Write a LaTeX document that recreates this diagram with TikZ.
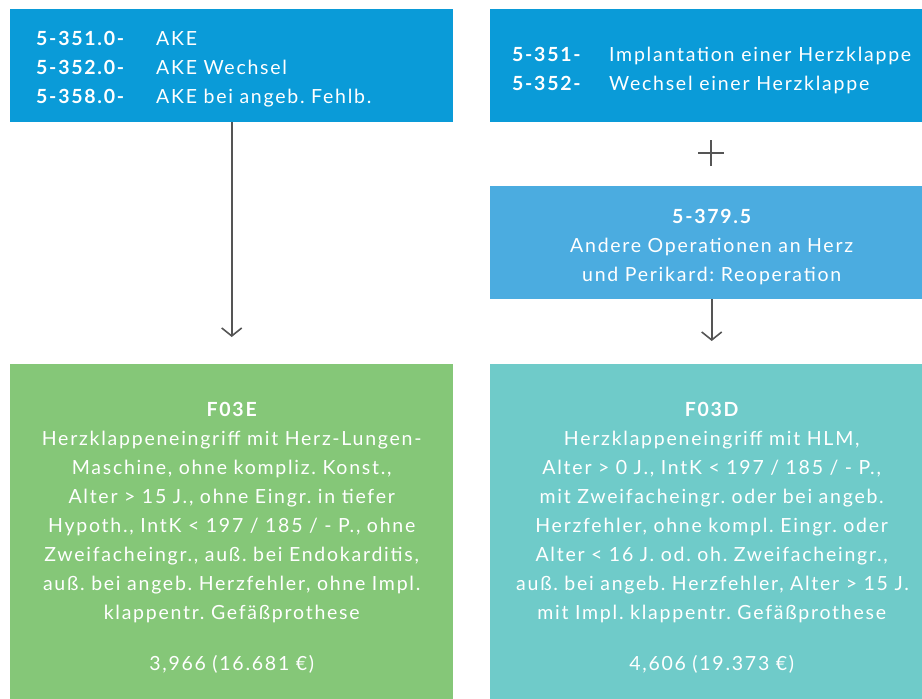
\documentclass[tikz,border=0pt]{standalone}
\usepackage{fontspec}
\setmainfont[LetterSpace=9]{Lato}
\usetikzlibrary{positioning}
\usetikzlibrary{arrows.meta}

\definecolor{opsblue}{HTML}{0A9BD8}
\definecolor{reopblue}{HTML}{4BACE0}
\definecolor{drggreen}{HTML}{85C778}
\definecolor{drgteal}{HTML}{6FCBC9}
\definecolor{arrowgray}{HTML}{555555}

\begin{document}
\frenchspacing
\begin{tikzpicture}[x=1pt, y=-1pt,
  box/.style={rectangle, fill=#1, text=white, inner sep=0pt, anchor=north west,
              minimum width=443pt, text width=391pt,
              font=\fontsize{19.5}{29}\selectfont,
              execute at begin node={\rule{0pt}{22pt}}},
  flow/.style={draw=arrowgray, line width=1.6pt, -{Straight Barb[length=8pt, width=20pt]}}]

 \clip (0,0) rectangle (922,699);

 %top row: procedure codes
 \node[box=opsblue, minimum height=113pt, align=left] (opsL) at (10,9) {%
   \makebox[120pt][l]{\bfseries 5-351.0-}AKE\\
   \makebox[120pt][l]{\bfseries 5-352.0-}AKE Wechsel\\
   \makebox[120pt][l]{\bfseries 5-358.0-}AKE bei angeb. Fehlb.};

 \node[box=opsblue, minimum height=113pt, text width=, align=left,
       execute at begin node=] (opsR) at (490,9) {%
   \rule{0pt}{24pt}\makebox[97pt][l]{\bfseries 5-351-}Implantation einer Herzklappe\\
   \makebox[97pt][l]{\bfseries 5-352-}Wechsel einer Herzklappe};

 %plus
 \coordinate (plus) at (711,153);
 \draw[arrowgray, line width=1.8pt] ([xshift=-13pt]plus) -- ([xshift=13pt]plus);
 \draw[arrowgray, line width=1.8pt] ([yshift=-13pt]plus) -- ([yshift=13pt]plus);

 \node[box=reopblue, minimum height=113pt, align=center] (reop) at (490,186) {%
   {\bfseries 5-379.5}\\
   Andere Operationen an Herz\\
   und Perikard: Reoperation};

 %bottom row: DRGs
 \node[box=drggreen, minimum height=340pt, align=center] (drgE) at (10,364) {%
   {\bfseries F03E}\\
   Herzklappeneingriff mit Herz-Lungen-\\
   Maschine, ohne kompliz. Konst.,\\
   Alter > 15 J., ohne Eingr. in tiefer\\
   Hypoth., IntK < 197 / 185 / - P., ohne\\
   Zweifacheingr., auß. bei Endokarditis,\\
   auß. bei angeb. Herzfehler, ohne Impl.\\
   klappentr. Gefäßprothese\\[22pt]
   3,966 (16.681 €)};

 \node[box=drgteal, minimum height=340pt, align=center] (drgD) at (490,364) {%
   {\bfseries F03D}\\
   Herzklappeneingriff mit HLM,\\
   Alter > 0 J., IntK < 197 / 185 / - P.,\\
   mit Zweifacheingr. oder bei angeb.\\
   Herzfehler, ohne kompl. Eingr. oder\\
   Alter < 16 J. od. oh. Zweifacheingr.,\\
   auß. bei angeb. Herzfehler, Alter > 15 J.\\
   mit Impl. klappentr. Gefäßprothese\\[22pt]
   4,606 (19.373 €)};

 %arrows
 \draw[flow, shorten >=27pt] (opsL.south) -- (opsL.south |- drgE.north);
 \draw[flow, shorten >=23pt] (reop.south) -- (drgD.north);

\end{tikzpicture}
\end{document}
